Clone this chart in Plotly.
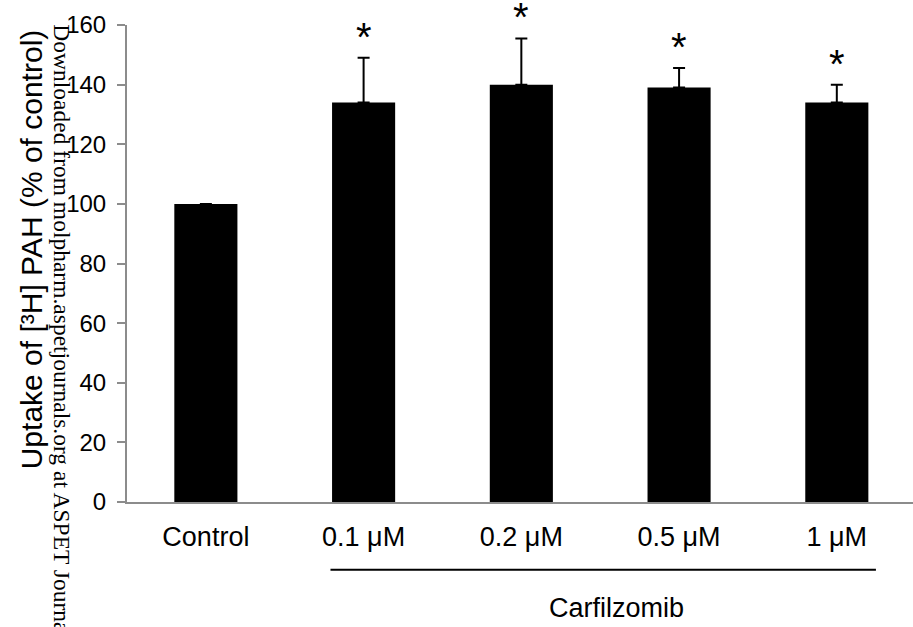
import plotly.graph_objects as go

# Uptake of [3H] PAH after carfilzomib treatment (% of control)
categories = ["Control", "0.1 μM", "0.2 μM", "0.5 μM", "1 μM"]
uptake = [100, 134, 140, 139, 134]
sem = [0, 15, 15.5, 6.6, 6]
significant = [False, True, True, True, True]

y_ticks = [0, 20, 40, 60, 80, 100, 120, 140, 160]

AXIS_GREY = "#8c8c8c"
FONT = "Liberation Sans, Arial, sans-serif"

fig = go.Figure()

fig.add_trace(go.Bar(
    x=categories,
    y=uptake,
    marker=dict(color="black", line=dict(color="black", width=0)),
    error_y=dict(
        type="data",
        symmetric=False,
        array=sem,
        arrayminus=[0] * len(sem),
        color="black",
        thickness=2,
        width=6,
    ),
    width=0.4,
    showlegend=False,
))

# significance markers above the error bars
annotations = []
for cat, v, e, sig in zip(categories, uptake, sem, significant):
    if sig:
        annotations.append(dict(
            x=cat, y=v + e, xref="x", yref="y",
            text="*", showarrow=False,
            font=dict(family=FONT, size=40, color="black"),
            xanchor="center", yanchor="bottom", yshift=-3,
        ))

# treatment group label under its bracket line
annotations.append(dict(
    x=2.606, y=-0.222, xref="x", yref="paper",
    text="Carfilzomib", showarrow=False,
    font=dict(family=FONT, size=27, color="black"),
    xanchor="center", yanchor="middle",
))

# y-axis title
annotations.append(dict(
    x=-0.122, y=0.530, xref="paper", yref="paper",
    text="Uptake of [³H] PAH (% of control)", showarrow=False,
    textangle=-90,
    font=dict(family=FONT, size=30, color="black"),
    xanchor="center", yanchor="middle",
))

# repository stamp running down the left edge
annotations.append(dict(
    x=-0.083, y=1.005, xref="paper", yref="paper",
    text="Downloaded from molpharm.aspetjournals.org at ASPET Journals on May 11, 2025",
    showarrow=False, textangle=90,
    font=dict(family="Liberation Serif, Times New Roman, serif", size=23.5, color="black"),
    xanchor="center", yanchor="top",
))

shapes = [dict(
    type="line", xref="x", yref="paper",
    x0=0.79, x1=4.248, y0=-0.142, y1=-0.142,
    line=dict(color="black", width=2),
)]

fig.update_layout(
    width=913,
    height=627,
    margin=dict(l=127, r=0, t=25, b=125),
    paper_bgcolor="white",
    plot_bgcolor="white",
    font=dict(family=FONT, color="black"),
    bargap=0.6,
    annotations=annotations,
    shapes=shapes,
    xaxis=dict(
        range=[-0.5, 4.483],
        showline=True, linecolor=AXIS_GREY, linewidth=2,
        ticks="", showgrid=False, zeroline=False,
        tickfont=dict(family=FONT, size=27, color="black"),
        ticklabelstandoff=10,
    ),
    yaxis=dict(
        range=[0, 160],
        tickvals=y_ticks,
        showline=True, linecolor=AXIS_GREY, linewidth=2,
        ticks="outside", ticklen=8, tickwidth=2, tickcolor=AXIS_GREY,
        showgrid=False, zeroline=False,
        tickfont=dict(family=FONT, size=24, color="black"),
        ticklabelstandoff=6,
    ),
)

fig.write_html("out.html")
